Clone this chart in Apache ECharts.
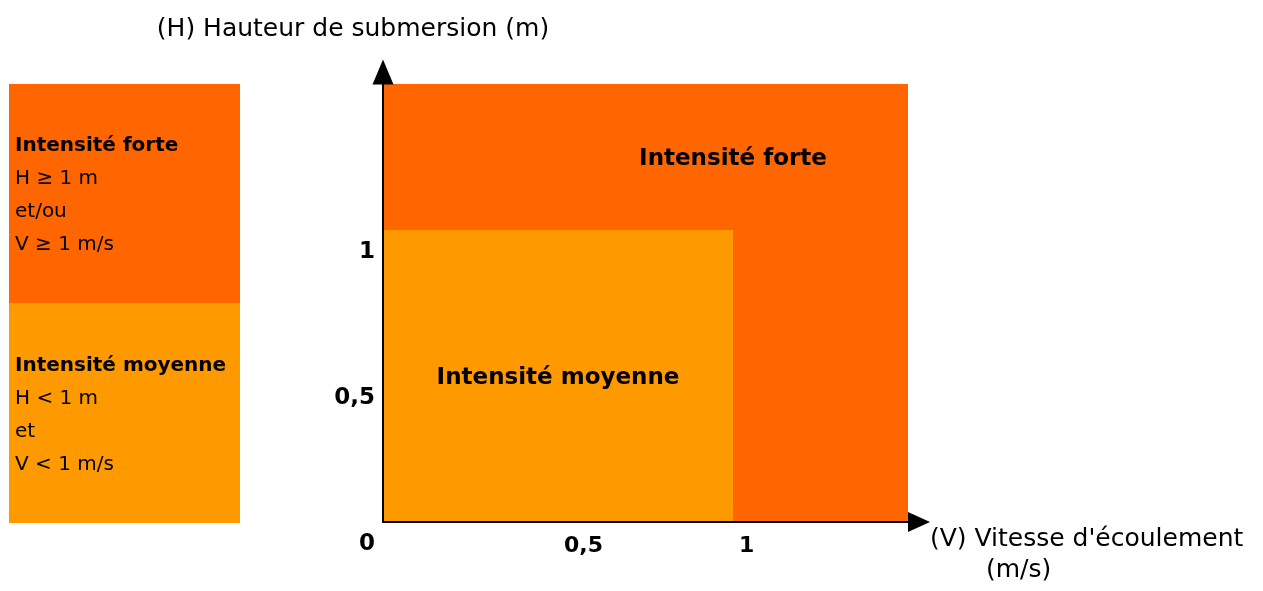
<!DOCTYPE html>
<html>
<head>
<meta charset="utf-8">
<script src="https://cdn.jsdelivr.net/npm/echarts@6/dist/echarts.min.js"></script>
<style>
  html, body { margin: 0; padding: 0; background: #fff; }
  #chart { width: 1263px; height: 591px; }
</style>
</head>
<body>
<div id="chart"></div>
<script>
// zones of the diagram: upper bound of V (m/s) and H (m), lower bound is 0
const zoneNames = ['Intensité forte', 'Intensité moyenne'];
const zoneVMax = [1.5, 1];
const zoneHMax = [1.5, 1];
const zoneColors = ['#FF6600', '#FF9900'];
const zoneRules = [
  ['H ≥ 1 m', 'et/ou', 'V ≥ 1 m/s'],
  ['H < 1 m', 'et', 'V < 1 m/s']
];
const axisTicks = [0, 0.5, 1];
const xAxisName = "(V) Vitesse d'écoulement";
const xAxisUnit = '(m/s)';
const yAxisName = '(H) Hauteur de submersion (m)';

const FONT = 'DejaVu Sans';
const fmt = v => String(v).replace('.', ',');

// name of each zone: "moyenne" in the middle of its box, "forte" above it
const zoneLabels = [
  [zoneVMax[1], (zoneHMax[1] + zoneHMax[0]) / 2, zoneNames[0]],
  [zoneVMax[1] / 2, zoneHMax[1] / 2, zoneNames[1]]
];

// key boxes on the left
const keyBoxes = [{ y: 84, h: 219 }, { y: 303, h: 220 }];
const keyGraphic = [];
zoneNames.forEach((name, i) => {
  const box = keyBoxes[i];
  keyGraphic.push({
    type: 'rect',
    shape: { x: 9, y: box.y, width: 231, height: box.h },
    style: { fill: zoneColors[i] },
    silent: true
  });
  keyGraphic.push({
    type: 'text',
    x: 15,
    y: box.y + box.h / 2 + 2,
    silent: true,
    style: {
      text: ['{b|' + name + '}'].concat(zoneRules[i].map(s => '{n|' + s + '}')).join('\n'),
      verticalAlign: 'middle',
      rich: {
        b: { fontFamily: FONT, fontWeight: 'bold', fontSize: 20, lineHeight: 33, fill: '#000' },
        n: { fontFamily: FONT, fontSize: 20, lineHeight: 33, fill: '#000' }
      }
    }
  });
});

const chart = echarts.init(document.getElementById('chart'));

const option = {
  animation: false,
  grid: { left: 383, right: 355, top: 84, bottom: 69, outerBoundsMode: 'none' },
  xAxis: {
    type: 'value',
    min: 0,
    max: 1.5,
    interval: 0.5,
    z: 5,
    name: xAxisName + '\n{u|' + xAxisUnit + '}',
    nameLocation: 'end',
    nameGap: 22,
    nameMoveOverlap: false,
    nameTextStyle: {
      fontFamily: FONT,
      fontSize: 25,
      color: '#000',
      align: 'left',
      verticalAlign: 'top',
      lineHeight: 31,
      padding: [2, 0, 0, 0],
      rich: { u: { fontFamily: FONT, fontSize: 25, color: '#000', lineHeight: 31, padding: [0, 0, 0, 56] } }
    },
    axisLine: {
      lineStyle: { color: '#000', width: 2 },
      symbol: ['none', 'triangle'],
      symbolSize: [20, 22],
      symbolOffset: [0, 11]
    },
    axisTick: { show: false },
    splitLine: { show: false },
    axisLabel: {
      formatter: v => (v > 0 && axisTicks.includes(v) ? fmt(v) : ''),
      align: 'left',
      margin: 13,
      padding: [0, 0, 0, 6],
      fontFamily: FONT,
      fontWeight: 'bold',
      fontSize: 22,
      color: '#000'
    }
  },
  yAxis: {
    type: 'value',
    min: 0,
    max: 1.5,
    interval: 0.5,
    z: 5,
    name: yAxisName,
    nameLocation: 'end',
    nameGap: 55,
    nameMoveOverlap: false,
    nameTextStyle: {
      fontFamily: FONT,
      fontSize: 25,
      color: '#000',
      verticalAlign: 'middle',
      padding: [0, 60, 0, 0]
    },
    axisLine: {
      lineStyle: { color: '#000', width: 2 },
      symbol: ['none', 'triangle'],
      symbolSize: [21, 25],
      symbolOffset: [0, 12]
    },
    axisTick: { show: false },
    splitLine: { show: false },
    axisLabel: {
      formatter: v => (axisTicks.includes(v) ? fmt(v) : ''),
      align: 'right',
      verticalAlign: 'top',
      margin: 8,
      padding: [11, 0, 0, 0],
      fontFamily: FONT,
      fontWeight: 'bold',
      fontSize: 23,
      color: '#000'
    }
  },
  graphic: keyGraphic,
  series: [
    {
      type: 'custom',
      silent: true,
      renderItem: (params, api) => {
        const p0 = api.coord([0, 0]);
        const p1 = api.coord([api.value(0), api.value(1)]);
        return {
          type: 'rect',
          shape: { x: p0[0], y: p1[1], width: p1[0] - p0[0], height: p0[1] - p1[1] },
          style: { fill: zoneColors[params.dataIndex] }
        };
      },
      encode: { x: 0, y: 1 },
      data: zoneVMax.map((v, i) => [v, zoneHMax[i]])
    },
    {
      type: 'scatter',
      silent: true,
      symbolSize: 0,
      z: 4,
      itemStyle: { opacity: 1 },
      label: {
        show: true,
        position: 'inside',
        offset: [0, 2],
        formatter: p => p.data[2],
        fontFamily: FONT,
        fontWeight: 'bold',
        fontSize: 23,
        color: '#000',
        opacity: 1
      },
      data: zoneLabels
    }
  ]
};

chart.setOption(option);
</script>
</body>
</html>
